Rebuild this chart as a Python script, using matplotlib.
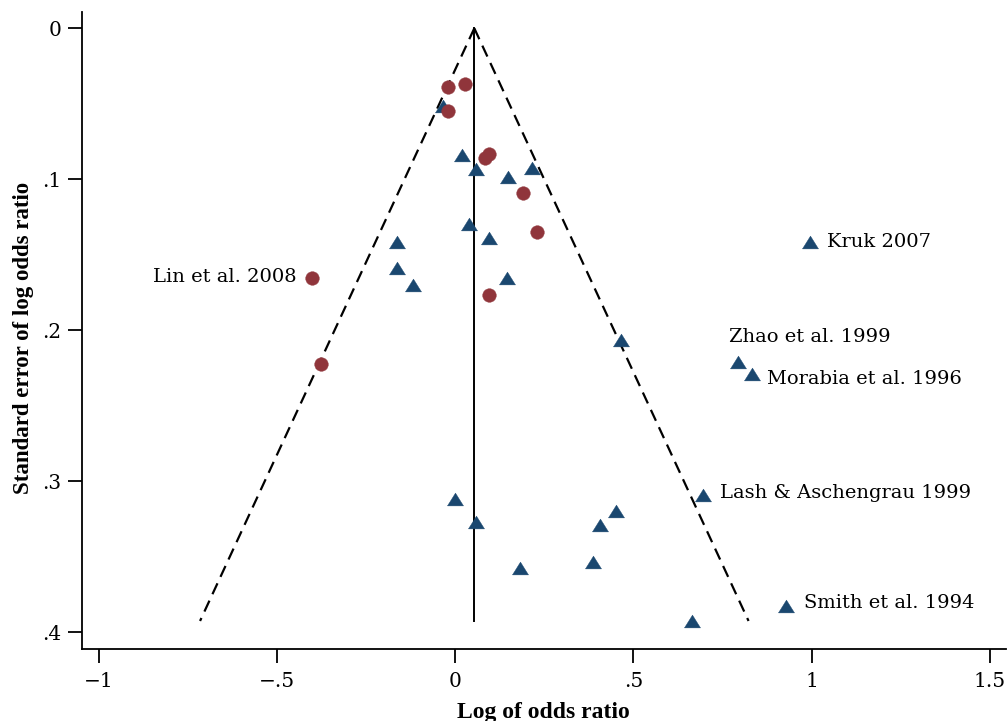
import matplotlib
matplotlib.use("Agg")
import matplotlib.pyplot as plt
import numpy as np

# ---- data (log odds ratio, standard error) ----
tri_logor = [-0.035, 0.020, 0.059, 0.149, 0.216, 0.038, 0.095, -0.162, -0.162, -0.118,
             0.145, 0.464, 0.996, 0.794, 0.833, 0.000, 0.058, 0.183, 0.387, 0.406,
             0.451, 0.694, 0.929, 0.663]
tri_se = [0.0515, 0.0839, 0.0932, 0.0987, 0.0923, 0.1296, 0.1387, 0.1413, 0.1589, 0.1700,
          0.1656, 0.2064, 0.1415, 0.2208, 0.2291, 0.3117, 0.3269, 0.3574, 0.3532, 0.3287,
          0.3197, 0.3089, 0.3824, 0.3925]
tri_labels = ["", "", "", "", "", "", "", "", "", "",
              "", "", "Kruk 2007", "Zhao et al. 1999", "Morabia et al. 1996", "", "", "", "", "",
              "", "Lash & Aschengrau 1999", "Smith et al. 1994", ""]

circ_logor = [-0.020, 0.027, -0.020, 0.095, 0.084, 0.191, 0.229, 0.095, -0.401, -0.377]
circ_se = [0.0391, 0.0369, 0.0548, 0.0833, 0.0861, 0.1089, 0.1347, 0.1768, 0.1654, 0.2223]
circ_labels = ["", "", "", "", "", "", "", "", "Lin et al. 2008", ""]

pooled_logor = 0.0536

x_ticks = [-1, -0.5, 0, 0.5, 1, 1.5]
x_ticklabels = ["\u22121", "\u2212.5", "0", ".5", "1", "1.5"]
y_ticks = [0, 0.1, 0.2, 0.3, 0.4]
y_ticklabels = ["0", ".1", ".2", ".3", ".4"]

# ---- style ----
NAVY = "#1a476f"
MAROON = "#90353b"
TICK_FONT = "DejaVu Serif"
TITLE_FONT = "Liberation Serif"

W, H = 1008, 721
fig = plt.figure(figsize=(W / 100, H / 100), dpi=100)
ax = fig.add_axes([81.7 / W, 1 - 649 / H, (1006 - 81.7) / W, (649 - 12) / H])

# funnel
se_max = max(max(tri_se), max(circ_se))
se_line = np.array([0.0, se_max])
ax.plot([pooled_logor, pooled_logor], se_line, color="black", lw=1.4, zorder=2)
ax.plot(pooled_logor - 1.96 * se_line, se_line, color="black", lw=1.6,
        dashes=(5.4, 3.2), zorder=2)
ax.plot(pooled_logor + 1.96 * se_line, se_line, color="black", lw=1.6,
        dashes=(5.4, 3.2), zorder=2)

# markers
tri_marker = [(-1, -0.8), (1, -0.8), (0, 0.8), (-1, -0.8)]
ax.plot(tri_logor, tri_se, linestyle="none", marker=tri_marker, ms=11.5,
        mfc=NAVY, mec=NAVY, mew=0.3, zorder=3)
ax.plot(circ_logor, circ_se, linestyle="none", marker="o", ms=9.8,
        mfc=MAROON, mec=MAROON, mew=0.3, zorder=4)

# labels
offsets = {
    "Kruk 2007": (12, 0, "left"),
    "Zhao et al. 1999": (-6.5, 17.6, "left"),
    "Morabia et al. 1996": (10.8, -3.2, "left"),
    "Lash & Aschengrau 1999": (12.5, 1, "left"),
    "Smith et al. 1994": (12.7, 1.7, "left"),
    "Lin et al. 2008": (-11.5, 1, "right"),
}
for xs, ys, labs in ((tri_logor, tri_se, tri_labels), (circ_logor, circ_se, circ_labels)):
    for x, y, lab in zip(xs, ys, labs):
        if lab:
            dx, dy, ha = offsets[lab]
            ax.annotate(lab, (x, y), xytext=(dx, dy), textcoords="offset points",
                        ha=ha, va="center", fontsize=14, family=TICK_FONT,
                        color="black", zorder=5)

# axes
ax.set_xlim((81.7 - 455.2) / 356.5, (1006 - 455.2) / 356.5)
ax.set_ylim((649 - 28.3) / 1510, (12 - 28.3) / 1510)
ax.set_xticks(x_ticks)
ax.set_xticklabels(x_ticklabels)
ax.set_yticks(y_ticks)
ax.set_yticklabels(y_ticklabels)
for s in ("top", "right"):
    ax.spines[s].set_visible(False)
for s in ("left", "bottom"):
    ax.spines[s].set_linewidth(1.3)
ax.tick_params(axis="both", length=10.3, width=1.3, labelsize=14.5, colors="black")
ax.tick_params(axis="x", pad=6)
ax.tick_params(axis="y", pad=4.5)
for lbl in ax.get_xticklabels() + ax.get_yticklabels():
    lbl.set_family(TICK_FONT)

fig.text(24 / W, 1 - 338 / H, "Standard error of log odds ratio", rotation=90,
         ha="center", va="center", fontsize=16.5, fontweight="bold", family=TITLE_FONT)
fig.text(543 / W, 1 - 718 / H, "Log of odds ratio", ha="center", va="baseline",
         fontsize=17, fontweight="bold", family=TITLE_FONT)

fig.savefig("out.png", dpi=100)
